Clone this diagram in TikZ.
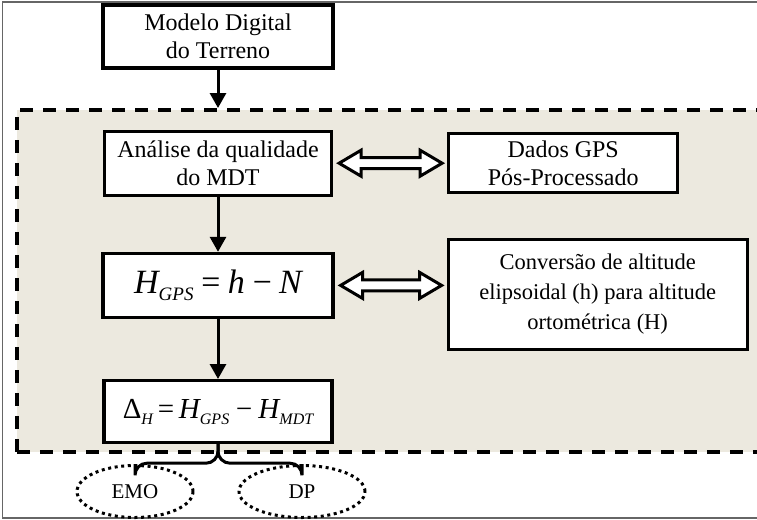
\documentclass[tikz,border=0pt]{standalone}
\usepackage{fontspec}
\setmainfont{Liberation Serif}
\usepackage{tikz}
\usetikzlibrary{positioning}
\usetikzlibrary{arrows.meta}
\usetikzlibrary{shapes.geometric}
\usetikzlibrary{calc}
\definecolor{sand}{RGB}{236,233,223}

% hollow double headed arrow between two nodes
\newcommand{\dblarrow}[2]{%
  \draw[line width=3pt, fill=white, line join=miter]
    ($(#1.east)+(6,0)$) -- ++(22,13) -- ++(0,-7.5)
    -- ($(#2.west |- #1.east)+(-27,5.5)$) -- ++(0,7.5)
    -- ($(#2.west |- #1.east)+(-5,0)$) -- ++(-22,-13) -- ++(0,7.5)
    -- ($(#1.east)+(28,-5.5)$) -- ++(0,-7.5) -- cycle;}
% lowered index: size, drop, text
\newcommand{\idx}[3]{\raisebox{-#2}{\fontsize{#1}{#1}\selectfont #3}}

\begin{document}
\begin{tikzpicture}[
            x = 1pt, y = 1pt,
            > = {Triangle[length=15pt,width=16pt]}, % arrow head style
            semithick
        ]

        \tikzstyle{box}=[
            draw,
            line width = 3.2pt,
            fill = white,
            align = center,
            inner sep = 0pt,
            font = \fontsize{24}{27.5}\selectfont
        ]
        \tikzstyle{result}=[
            ellipse,
            draw,
            line width = 3pt,
            dash pattern = on 3pt off 3.6pt,
            inner sep = 0pt,
            minimum height = 52pt,
            font = \fontsize{21}{24}\selectfont
        ]
        \tikzstyle{flow}=[->, line width = 3pt]

        \useasboundingbox (0,0) rectangle (757,-519);
        \clip (0,0) rectangle (757,-519);

        % frame and work area
        \draw[black!60, line width = 1.3pt] (2.5,-2) rectangle (800,-518);
        \node[draw, fill = sand, line width = 3.5pt,
              dash pattern = on 13pt off 10pt, anchor = north west,
              minimum width = 780pt, minimum height = 342pt] (area) at (15,-108) {};

        % main chain
        \node[box, minimum width = 230pt, minimum height = 63pt] (MDT) at (218,-36.5)
             {Modelo Digital\\do Terreno};
        \node[box, minimum width = 227pt, minimum height = 64pt] (QUAL) [below = 60pt of MDT]
             {Análise da qualidade\\do MDT};
        \node[box, minimum width = 230pt, minimum height = 64pt] (HGPS) [below = 55pt of QUAL]
             {\fontsize{34}{36}\selectfont\itshape H\idx{19}{7pt}{GPS}\,=\,h\,−\,N};
        \node[box, minimum width = 228pt, minimum height = 62pt] (DH) [below = 60pt of HGPS]
             {\fontsize{29}{30}\selectfont Δ\idx{16}{6pt}{\itshape H}\,=\,\itshape H\idx{16}{6pt}{GPS}\,−\,H\idx{16}{6pt}{MDT}};

        \draw[flow] (MDT) -- (MDT |- area.north);
        \draw[flow] (QUAL) -- (HGPS);
        \draw[flow] (HGPS) -- (DH);

        % side boxes
        \node[box, minimum width = 229pt, minimum height = 59pt] (GPS) [right = 114pt of QUAL]
             {Dados GPS\\Pós-Processado};
        \node[box, minimum width = 299pt, minimum height = 110pt, yshift = -9pt,
              font = \fontsize{22.5}{30}\selectfont] (CONV) [right = 112pt of HGPS]
             {Conversão de altitude\\elipsoidal (h) para altitude\\ortométrica (H)};

        \dblarrow{QUAL}{GPS}
        \dblarrow{HGPS}{CONV}

        % results
        \node[result, minimum width = 116pt] (EMO) at (135,-491.5) {EMO};
        \node[result, minimum width = 126pt] (DP) at (302,-491.5) {DP};

        \draw[line width = 3pt, rounded corners = 12pt]
             (EMO.north) |- ([yshift = -19pt]DH.south) -- (DH.south);
        \draw[line width = 3pt, rounded corners = 12pt]
             (DP.north) |- ([yshift = -19pt]DH.south) -- (DH.south);

\end{tikzpicture}
\end{document}
